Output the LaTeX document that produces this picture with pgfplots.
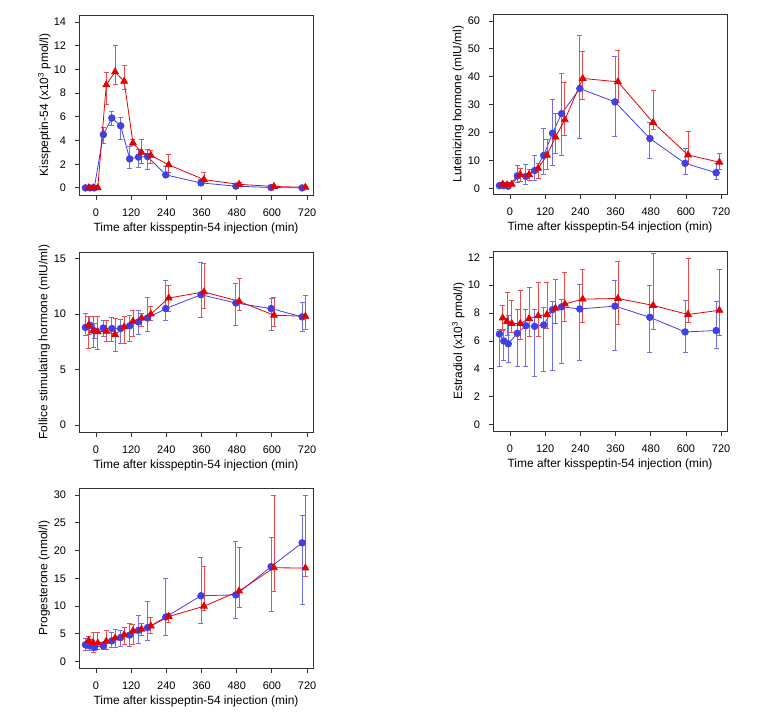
\documentclass[border=0pt]{standalone}
\usepackage{fontspec}
\setmainfont{Liberation Sans}
\usepackage{pgfplots}
\pgfplotsset{compat=1.18}
\usepackage{pgfplotstable}

\definecolor{kblue}{RGB}{64,64,230}
\definecolor{kred}{RGB}{230,0,0}

% columns: time, mean, upper and lower end of the error bar
\pgfplotstableread{
x y hi lo
-36 0 0.1 0
-21 0 0.1 0
-6 0 0.1 0
25 4.5 5.15 3.75
54 5.9 6.45 5.25
84 5.25 5.95 4.1
115 2.45 3.5 1.65
145 2.6 3.25 1.7
176 2.65 3.25 1.6
238 1.1 1.85 0.85
358 0.42 0.7 0.25
477 0.15 0.3 0.05
597 0.03 0.1 0
703 0.0 0.05 0
}\kissB
\pgfplotstableread{
x y hi lo
-25 0 0.15 0
-10 0 0.15 0
6 0 0.15 0
35 8.7 9.75 7.05
65 9.8 12.0 8.75
96 9.0 10.35 8.35
126 3.8 4.1 3.55
155 3.0 4.1 2.05
187 2.75 3.2 2.1
248 1.95 2.8 1.3
368 0.7 1.3 0.35
488 0.3 0.5 0.15
607 0.12 0.2 0.05
714 0.05 0.1 0
}\kissR
\pgfplotstableread{
x y hi lo
-36 1.0 1.3 0.7
-21 1.0 1.3 0.7
-6 0.8 1.1 0.5
25 4.5 8.4 2.2
54 4.3 8.5 1.6
84 6.4 12.0 2.8
115 11.8 21.5 4.9
145 19.8 31.9 8.1
176 26.8 41.3 11.9
238 35.8 55.0 17.9
358 31.0 47.4 18.8
477 17.9 23.8 10.9
597 9.0 14.2 5.2
703 5.6 9.0 3.1
}\lhB
\pgfplotstableread{
x y hi lo
-25 1.5 2.0 1.0
-10 1.3 2.0 0.8
6 1.5 2.0 1.0
35 5.0 7.1 2.5
65 5.0 6.7 3.0
96 7.2 9.1 3.5
126 11.9 17.5 6.7
155 18.4 26.9 12.5
187 24.6 38.0 19.1
248 39.4 49.0 31.9
368 38.2 49.5 31.0
488 23.6 35.0 21.0
607 12.0 20.3 8.5
714 9.4 12.7 6.7
}\lhR
\pgfplotstableread{
x y hi lo
-36 8.8 10.05 8.1
-21 9.0 9.8 8.2
-6 8.5 9.2 7.8
25 8.75 9.45 7.95
54 8.7 9.7 7.55
84 8.7 9.55 7.35
115 8.95 9.9 7.5
145 9.3 10.3 8.2
176 9.65 11.5 8.45
238 10.5 13.0 9.45
358 11.75 14.7 9.7
477 11.0 12.75 9.0
597 10.5 11.45 8.55
703 9.75 11.05 8.4
}\fshB
\pgfplotstableread{
x y hi lo
-25 9.0 9.75 6.9
-10 8.5 9.75 7.0
6 8.4 9.8 6.85
35 8.45 9.4 7.55
65 8.15 9.65 6.65
96 8.85 9.8 7.4
126 9.35 10.35 7.95
155 9.65 10.1 8.9
187 10.0 10.7 9.4
248 11.45 12.6 10.2
368 12.0 14.55 10.5
488 11.15 13.2 10.3
607 9.9 11.5 8.9
714 9.8 11.65 8.6
}\fshR
\pgfplotstableread{
x y hi lo
-36 6.5 6.85 4.2
-21 6.0 6.85 4.6
-6 5.8 7.8 4.45
25 6.55 8.25 4.2
54 7.1 8.25 4.15
84 7.05 8.3 3.45
115 7.15 8.4 3.8
145 8.25 8.85 3.9
176 8.45 9.0 4.4
238 8.3 10.05 4.6
358 8.5 10.35 5.3
477 7.7 10.0 5.2
597 6.65 8.9 5.15
703 6.75 8.85 5.45
}\estB
\pgfplotstableread{
x y hi lo
-25 7.65 8.55 6.75
-10 7.4 9.5 6.4
6 7.25 8.9 6.65
35 7.25 9.65 6.1
65 7.6 9.85 6.3
96 7.8 10.2 6.35
126 7.9 10.2 6.9
155 8.35 10.45 7.25
187 8.65 10.9 7.4
248 9.0 11.15 7.3
368 9.05 11.7 7.2
488 8.55 12.25 6.8
607 7.9 11.95 7.35
714 8.2 11.1 6.4
}\estR
\pgfplotstableread{
x y hi lo
-36 3.0 4.2 2.0
-21 2.8 3.9 1.9
-6 2.55 3.4 2.0
25 2.8 3.4 2.1
54 3.7 5.3 2.45
84 4.3 5.6 2.7
115 4.75 6.8 2.65
145 5.6 8.3 3.3
176 6.1 10.9 3.8
238 8.0 15.0 4.6
358 11.85 18.8 6.85
477 12.0 21.7 7.7
597 17.1 22.3 9.0
703 21.4 26.3 10.2
}\progB
\pgfplotstableread{
x y hi lo
-25 3.75 4.5 2.3
-10 3.4 5.2 1.6
6 3.3 5.2 2.1
35 3.65 5.6 2.1
65 4.2 5.7 2.6
96 4.8 6.1 3.0
126 5.5 6.7 3.1
155 5.8 6.9 4.6
187 6.4 8.0 5.0
248 8.1 8.7 7.0
368 9.95 17.1 9.2
488 12.7 20.5 9.7
607 16.9 29.9 12.6
714 16.85 29.9 15.3
}\progR

\pgfplotsset{
  panel/.style={
    scale only axis, width=234bp, height=180bp,
    xmin=-58, xmax=740,
    xtick={0,120,...,720},
    tick align=outside, tick pos=left,
    major tick length=4.5bp,
    axis line style={black!80, line width=0.9bp},
    every tick/.style={black!80, line width=0.9bp},
    tick label style={font=\fontsize{11}{12}\selectfont},
    xticklabel style={yshift=-6bp},
    yticklabel style={xshift=-5bp},
    /pgf/number format/assume math mode=true,
    label style={font=\fontsize{12}{14}\selectfont},
    xlabel={Time after kisspeptin-54 injection (min)},
    xlabel style={at={(axis description cs:0.5,-0.185)}, anchor=center},
    ylabel style={at={(axis description cs:-0.148,0.5)}, anchor=center},
  },
  bser/.style={kblue, line width=0.8bp, mark=*, mark size=3.3bp,
    mark options={solid, fill=kblue, draw=kblue},
    error bars/.cd, y dir=both, y explicit,
    error bar style={kblue!75, line width=0.8bp},
    error mark options={rotate=90, kblue!75, mark size=2.5bp, line width=0.8bp}},
  rser/.style={kred, line width=0.8bp, mark=triangle*, mark size=3.9bp,
    mark options={solid, fill=kred, draw=kred},
    error bars/.cd, y dir=both, y explicit,
    error bar style={kred!70, line width=0.8bp},
    error mark options={rotate=90, kred!70, mark size=2.5bp, line width=0.8bp}},
}

\newcommand{\series}[2]{%
  \addplot[#1] table[x=x, y=y,
    y error plus expr=\thisrow{hi}-\thisrow{y},
    y error minus expr=\thisrow{y}-\thisrow{lo}] {#2};}

\begin{document}
\begin{tikzpicture}
\path[use as bounding box] (0,0) rectangle (764bp,-715bp);

\begin{axis}[panel, at={(79bp,-195bp)}, anchor=south west,
  ymin=-0.6, ymax=14.6, ytick={0,2,...,14},
  ylabel={Kisspeptin-54 (x10\textsuperscript{3} pmol/l)}]
\series{bser}{\kissB}
\series{rser}{\kissR}
\end{axis}

\begin{axis}[panel, at={(493bp,-194bp)}, anchor=south west,
  ymin=-2, ymax=62.5, ytick={0,10,...,60},
  ylabel={Luteinizing hormone (mIU/ml)}]
\series{bser}{\lhB}
\series{rser}{\lhR}
\end{axis}

\begin{axis}[panel, at={(79bp,-432bp)}, anchor=south west,
  ymin=-0.63, ymax=15.6, ytick={0,5,10,15},
  ylabel={Follice stimulating hormone (mIU/ml)}]
\series{bser}{\fshB}
\series{rser}{\fshR}
\end{axis}

\begin{axis}[panel, at={(493bp,-431bp)}, anchor=south west,
  ymin=-0.45, ymax=12.45, ytick={0,2,...,12},
  ylabel={Estradiol (x10\textsuperscript{3} pmol/l)}]
\series{bser}{\estB}
\series{rser}{\estR}
\end{axis}

\begin{axis}[panel, at={(79bp,-668bp)}, anchor=south west,
  ymin=-1.2, ymax=31.3, ytick={0,5,...,30},
  ylabel={Progesterone (nmol/l)}]
\series{bser}{\progB}
\series{rser}{\progR}
\end{axis}
\end{tikzpicture}
\end{document}
